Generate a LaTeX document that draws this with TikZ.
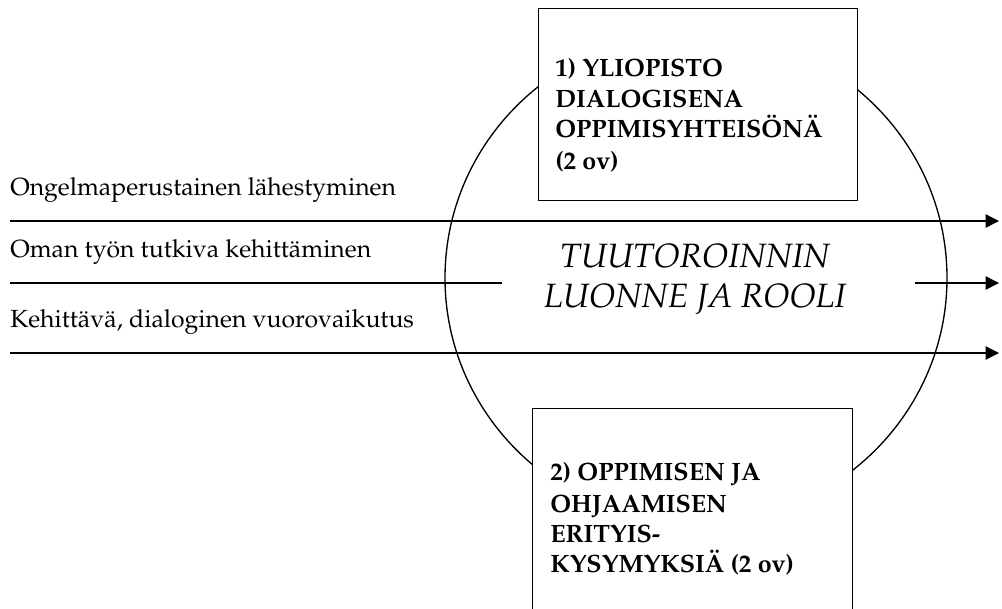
\documentclass[tikz,border=0pt]{standalone}
\usepackage[T1]{fontenc}
\usepackage{mathpazo}
\usetikzlibrary{arrows.meta}
\begin{document}
\begin{tikzpicture}[x=0.75pt,y=-0.75pt,
  rule/.style={line width=1pt},
  flow/.style={rule,-{Triangle[length=10pt,width=10pt]}},
  topic/.style={draw,line width=1pt,fill=white,inner sep=0pt,anchor=north west},
  themetext/.style={inner sep=0pt,anchor=base west,font=\fontsize{18.6}{22}\selectfont},
  boxline/.style={inner sep=0pt,anchor=base west,font=\fontsize{18.8}{22}\selectfont\bfseries},
  centretitle/.style={inner sep=0pt,anchor=base,font=\fontsize{25.3}{30}\selectfont\itshape}]
\useasboundingbox (0,0) rectangle (1002,608);
\clip (0,0) rectangle (1002,608);

% the large ring behind everything
\draw[rule] (696,278) ellipse [x radius=188.25pt, y radius=184.5pt];

% the three themes running through the ring
\coordinate (s1) at (10,221);  \coordinate (e1) at (999,221);
\coordinate (s2) at (10,283);  \coordinate (m2) at (502,283);
\coordinate (r2) at (915,283); \coordinate (e2) at (999,283);
\coordinate (s3) at (10,353);  \coordinate (e3) at (999,353);
\draw[flow] (s1) -- (e1);
\draw[rule] (s2) -- (m2);
\draw[flow] (r2) -- (e2);
\draw[flow] (s3) -- (e3);

\node[themetext] (t1) at (10,195) {Ongelmaperustainen lähestyminen};
\node[themetext] (t2) at (10,257) {Oman työn tutkiva kehittäminen};
\node[themetext] (t3) at (10,327) {Kehittävä, dialoginen vuorovaikutus};

% centre title
\node[centretitle] (c1) at (695,267) {TUUTOROINNIN};
\node[centretitle] (c2) at (695,307) {LUONNE JA ROOLI};

% course boxes
\node[topic, minimum width=239.25pt, minimum height=144pt] (box1) at (538,8) {};
\node[topic, minimum width=240pt, minimum height=180pt] (box2) at (532,408) {};

\node[boxline] (a1) at (555,76)  {1) YLIOPISTO};
\node[boxline] (a2) at (555,107) {DIALOGISENA};
\node[boxline] (a3) at (555,137) {OPPIMISYHTEISÖNÄ};
\node[boxline] (a4) at (555,169) {(2 ov)};

\node[boxline] (b1) at (550,480) {2) OPPIMISEN JA};
\node[boxline] (b2) at (550,512) {OHJAAMISEN};
\node[boxline] (b3) at (550,542) {ERITYIS-};
\node[boxline] (b4) at (550,572) {KYSYMYKSIÄ (2 ov)};
\end{tikzpicture}
\end{document}
